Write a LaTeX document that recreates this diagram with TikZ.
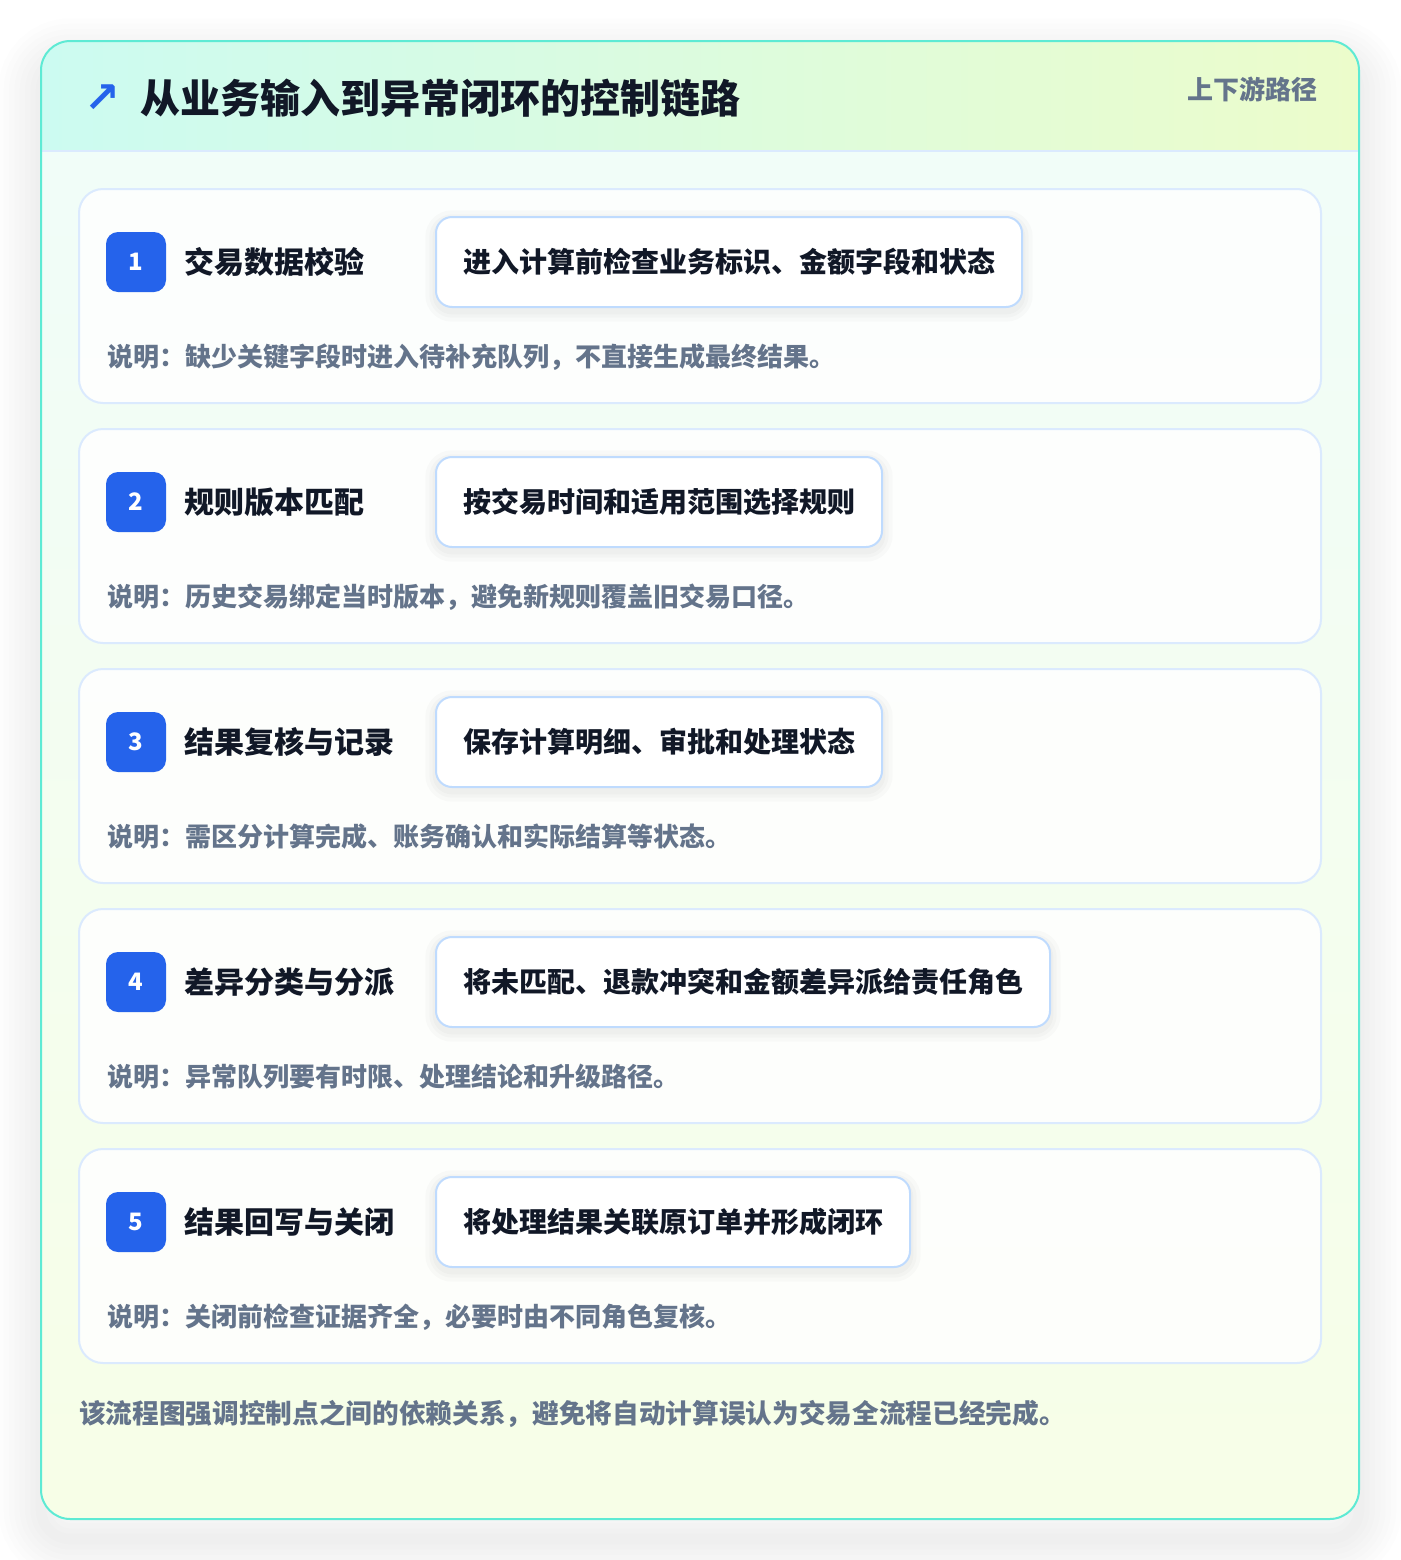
\documentclass[tikz,border=0pt]{standalone}
\usepackage{fontspec}
\setmainfont{Noto Sans CJK SC}
\newfontfamily\symfont{DejaVu Sans}
\usetikzlibrary{positioning}

\definecolor{rim}{HTML}{5EEAD4}
\definecolor{headl}{HTML}{CCFBF1}
\definecolor{headr}{HTML}{ECFCCB}
\definecolor{bodytop}{HTML}{F0FDFA}
\definecolor{bodybot}{HTML}{F7FEE7}
\definecolor{cardline}{HTML}{DBEAFE}
\definecolor{boxline}{HTML}{BFDBFE}
\definecolor{badgeblue}{HTML}{2563EB}
\definecolor{ink}{HTML}{111827}
\definecolor{muted}{HTML}{64748B}

\tikzset{
	halo/.style={
			preaction={draw=black, draw opacity=#1, line width=16pt, transform canvas={yshift=-3pt}},
			preaction={draw=black, draw opacity=#1, line width=10pt, transform canvas={yshift=-3pt}},
			preaction={draw=black, draw opacity=#1, line width=5pt, transform canvas={yshift=-3pt}}
		},
	ring/.style={preaction={draw=black, draw opacity=0.009, line width=#1, transform canvas={yshift=-15pt}}},
	bighalo/.style={ring=64pt, ring=56pt, ring=48pt, ring=40pt, ring=32pt, ring=24pt, ring=16pt, ring=8pt},
	stepcard/.style={
			draw=cardline, line width=1.5pt, fill=white, fill opacity=0.85,
			rounded corners=18pt, minimum width=931.5pt, minimum height=160.5pt
		},
	badge/.style={
			fill=badgeblue, text=white, rounded corners=9pt, minimum size=45pt,
			inner sep=0pt, font=\bfseries\fontsize{18}{20}\selectfont
		},
	steptitle/.style={
			anchor=west, inner sep=0pt, text=ink, font=\bfseries\fontsize{22.5}{26}\selectfont
		},
	workbox/.style={
			anchor=west, draw=boxline, line width=1.5pt, fill=white, rounded corners=12pt,
			inner xsep=20.25pt, inner ysep=0pt, minimum height=67.5pt, text=ink,
			font=\bfseries\fontsize{21}{24}\selectfont, halo=0.018
		},
	note/.style={
			anchor=west, inner sep=0pt, text=muted, font=\bfseries\fontsize{19.5}{22}\selectfont
		}
}

\begin{document}
\begin{tikzpicture}[x=0.75pt, y=-0.75pt]
	\useasboundingbox[fill=white] (0,0) rectangle (1400,1560);

	% panel
	\path[top color=bodytop, bottom color=bodybot, rounded corners=22pt, bighalo]
		(41,41) rectangle (1359,1519);
	\shade[left color=headl, right color=headr]
		(41,151) [rounded corners=22pt] -- (41,41) -- (1359,41) [sharp corners] -- (1359,151) -- cycle;
	\draw[cardline, line width=1.5pt] (41,151) -- (1359,151);
	\draw[rim, line width=1.5pt, rounded corners=22pt] (41,41) rectangle (1359,1519);

	\node[text=badgeblue, inner sep=0pt, font=\symfont\bfseries\fontsize{32}{32}\selectfont] (icon) at (102,99) {↗};
	\node[anchor=west, inner sep=0pt, text=ink, font=\bfseries\fontsize{30}{34}\selectfont] (title) at (140,98) {从业务输入到异常闭环的控制链路};
	\node[anchor=east, inner sep=0pt, text=muted, font=\bfseries\fontsize{19.5}{22}\selectfont] (route) at (1318,89) {上下游路径};

	\foreach \i/\name/\work/\detail in {
		1/交易数据校验/进入计算前检查业务标识、金额字段和状态/缺少关键字段时进入待补充队列，不直接生成最终结果。,
		2/规则版本匹配/按交易时间和适用范围选择规则/历史交易绑定当时版本，避免新规则覆盖旧交易口径。,
		3/结果复核与记录/保存计算明细、审批和处理状态/需区分计算完成、账务确认和实际结算等状态。,
		4/差异分类与分派/将未匹配、退款冲突和金额差异派给责任角色/异常队列要有时限、处理结论和升级路径。,
		5/结果回写与关闭/将处理结果关联原订单并形成闭环/关闭前检查证据齐全，必要时由不同角色复核。} {
		\pgfmathsetmacro{\cy}{296+240*(\i-1)}
		\node[stepcard] (card\i) at (700,\cy) {};
		\node[badge] (badge\i) at (136,\cy-34) {\i};
		\node[steptitle, right=13.5pt of badge\i] (name\i) {\name};
		\node[workbox] (work\i) at (435,\cy-34) {\work};
		\node[note] (detail\i) at (107,\cy+61) {说明：\detail};
	}

	\node[note, font=\bfseries\fontsize{20}{22}\selectfont] (summary) at (79,1414) {该流程图强调控制点之间的依赖关系，避免将自动计算误认为交易全流程已经完成。};
\end{tikzpicture}
\end{document}
